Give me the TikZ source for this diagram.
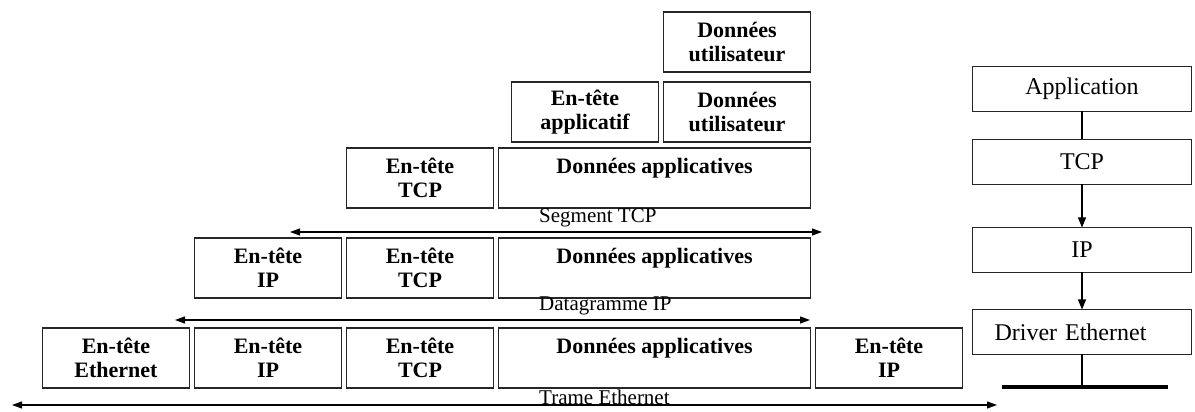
\documentclass[tikz,border=0pt]{standalone}
\usepackage{fontspec}
\setmainfont{Liberation Serif}
\usetikzlibrary{arrows.meta,positioning}
\tikzset{
  header/.style={rectangle,draw=black!85,line width=1.6pt,inner sep=0pt,outer sep=0pt,
    minimum width=147pt,minimum height=60pt,align=center,
    font=\fontsize{22}{24}\selectfont\bfseries},
  payload/.style={header,minimum width=312pt},
  layer/.style={rectangle,draw=black!85,line width=1.1pt,inner sep=0pt,outer sep=0pt,
    minimum width=219pt,minimum height=45pt,font=\fontsize{24}{26}\selectfont},
  extent/.style={<->,>={Triangle[length=10pt,width=7pt]},line width=1.1pt},
  spanlabel/.style={anchor=west,inner sep=0pt,font=\fontsize{21}{23}\selectfont},
  down/.style={line width=1.1pt}
}
\begin{document}
\begin{tikzpicture}[x=1pt,y=1pt]
  \useasboundingbox (0,0) rectangle (1195,412);

  % trame ethernet
  \node[header] (eth) at (116,54) {En-tête\\Ethernet};
  \node[header,right=5pt of eth] (ip5) {En-tête\\IP};
  \node[header,right=5pt of ip5] (tcp5) {En-tête\\TCP};
  \node[payload,right=5pt of tcp5] (data5) {Données applicatives\\\mbox{}};
  \node[header,right=5pt of data5] (ipend) {En-tête\\IP};

  % datagramme IP
  \node[payload,above=30pt of data5] (data4) {Données applicatives\\\mbox{}};
  \node[header,left=5pt of data4] (tcp4) {En-tête\\TCP};
  \node[header,left=5pt of tcp4] (ip4) {En-tête\\IP};

  % segment TCP
  \node[payload,above=30pt of data4] (data3) {Données applicatives\\\mbox{}};
  \node[header,left=5pt of data3] (tcp3) {En-tête\\TCP};

  % donnees de l'application
  \node[header,anchor=south east] (user2) at ([yshift=6pt]data3.north east) {Données\\utilisateur};
  \node[header,left=5pt of user2] (apphdr) {En-tête\\applicatif};
  \node[header,above=10pt of user2] (user1) {Données\\utilisateur};

  \coordinate (segL) at (290,180);
  \coordinate (segR) at (822,180);
  \coordinate (dgL) at (175,92);
  \coordinate (dgR) at (810,92);
  \coordinate (trL) at (12,7);
  \coordinate (trR) at (997,7);
  \draw[extent] (segL) -- (segR);
  \draw[extent] (dgL) -- (dgR);
  \draw[extent] (trL) -- (trR);
  \node[spanlabel] (segtxt) at (539,194) {Segment TCP};
  \node[spanlabel] (dgtxt) at (539,106) {Datagramme IP};
  \node[spanlabel] (trtxt) at (539,15) {Trame Ethernet};

  % pile de protocoles
  \node[layer] (app) at (1082,323) {Application};
  \node[layer] (tcp) at (1082,250) {TCP};
  \node[layer] (ip) at (1082,162) {IP};
  \node[layer,text width=175pt,align=left] (drv) at (1082,80) {Driver Ethernet};
  \coordinate (busL) at (1002,25);
  \coordinate (busR) at (1168,25);
  \draw[line width=4pt] (busL) -- (busR);
  \draw[down] (app) -- (tcp);
  \draw[down,-{Triangle[length=10pt,width=8pt]}] (tcp) -- (ip);
  \draw[down,-{Triangle[length=10pt,width=8pt]}] (ip) -- (drv);
  \draw[down] (drv.south) -- (drv.south |- busL);
\end{tikzpicture}
\end{document}
